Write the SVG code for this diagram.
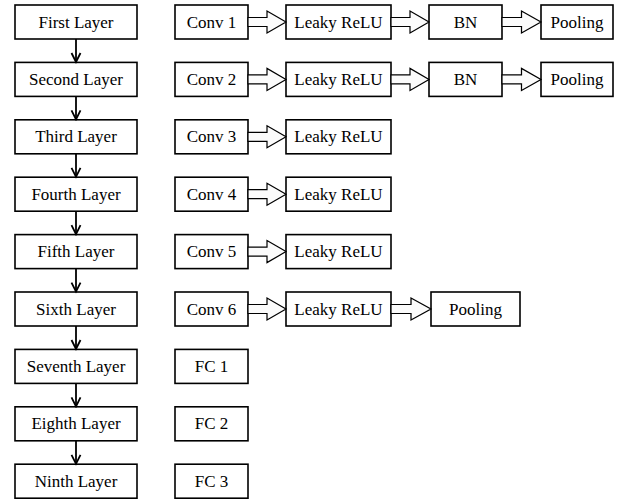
<svg xmlns="http://www.w3.org/2000/svg" width="635" height="500" viewBox="0 0 635 500">
<style>
rect{fill:#fff;stroke:#000;stroke-width:1.6}
text{font-family:'Liberation Serif','Times New Roman',serif;font-size:17px;text-anchor:middle;fill:#000}
.v{stroke:#000;stroke-width:1.8;fill:none}
.b{fill:#fbfbfb;stroke:#000;stroke-width:1.2;stroke-linejoin:miter}
</style>
<defs>
<marker id="ah" markerWidth="12" markerHeight="12" refX="10" refY="6" orient="auto" markerUnits="userSpaceOnUse" viewBox="0 0 12 12">
<path d="M1,1.5 L10,6 L1,10.5" fill="none" stroke="#000" stroke-width="1.8"/>
</marker>
<path id="blk" d="M0,-4.5 L19,-4.5 L19,-11 L38,0 L19,11 L19,4.5 L0,4.5 Z"/>
</defs>
<g id="layers" font-family="Liberation Serif, serif">
<g id="n1"><rect x="15" y="5" width="122" height="34"/><text x="76" y="27.5">First Layer</text></g>
<g id="n2"><rect x="15" y="62.4" width="122" height="34"/><text x="76" y="84.9">Second Layer</text></g>
<g id="n3"><rect x="15" y="119.8" width="122" height="34"/><text x="76" y="142.3">Third Layer</text></g>
<g id="n4"><rect x="15" y="177.2" width="122" height="34"/><text x="76" y="199.7">Fourth Layer</text></g>
<g id="n5"><rect x="15" y="234.6" width="122" height="34"/><text x="76" y="257.1">Fifth Layer</text></g>
<g id="n6"><rect x="15" y="292" width="122" height="34"/><text x="76" y="314.5">Sixth Layer</text></g>
<g id="n7"><rect x="15" y="349.4" width="122" height="34"/><text x="76" y="371.9">Seventh Layer</text></g>
<g id="n8"><rect x="15" y="406.8" width="122" height="34"/><text x="76" y="429.3">Eighth Layer</text></g>
<g id="n9"><rect x="15" y="464.2" width="122" height="34"/><text x="76" y="486.7">Ninth Layer</text></g>
</g>
<g id="ops">
<g id="c1"><rect x="175" y="5" width="73" height="34"/><text x="211.5" y="27.5">Conv 1</text></g>
<g id="l1"><rect x="286" y="5" width="105" height="34"/><text x="338.5" y="27.5">Leaky ReLU</text></g>
<g id="bn1"><rect x="429" y="5" width="73" height="34"/><text x="465.5" y="27.5">BN</text></g>
<g id="p1"><rect x="541" y="5" width="72" height="34"/><text x="577" y="27.5">Pooling</text></g>
<g id="c2"><rect x="175" y="62.4" width="73" height="34"/><text x="211.5" y="84.9">Conv 2</text></g>
<g id="l2"><rect x="286" y="62.4" width="105" height="34"/><text x="338.5" y="84.9">Leaky ReLU</text></g>
<g id="bn2"><rect x="429" y="62.4" width="73" height="34"/><text x="465.5" y="84.9">BN</text></g>
<g id="p2"><rect x="541" y="62.4" width="72" height="34"/><text x="577" y="84.9">Pooling</text></g>
<g id="c3"><rect x="175" y="119.8" width="73" height="34"/><text x="211.5" y="142.3">Conv 3</text></g>
<g id="l3"><rect x="286" y="119.8" width="105" height="34"/><text x="338.5" y="142.3">Leaky ReLU</text></g>
<g id="c4"><rect x="175" y="177.2" width="73" height="34"/><text x="211.5" y="199.7">Conv 4</text></g>
<g id="l4"><rect x="286" y="177.2" width="105" height="34"/><text x="338.5" y="199.7">Leaky ReLU</text></g>
<g id="c5"><rect x="175" y="234.6" width="73" height="34"/><text x="211.5" y="257.1">Conv 5</text></g>
<g id="l5"><rect x="286" y="234.6" width="105" height="34"/><text x="338.5" y="257.1">Leaky ReLU</text></g>
<g id="c6"><rect x="175" y="292" width="73" height="34"/><text x="211.5" y="314.5">Conv 6</text></g>
<g id="l6"><rect x="286" y="292" width="105" height="34"/><text x="338.5" y="314.5">Leaky ReLU</text></g>
<g id="p6"><rect x="431" y="292" width="89" height="34"/><text x="475.5" y="314.5">Pooling</text></g>
<g id="fc1"><rect x="175" y="349.4" width="73" height="34"/><text x="211.5" y="371.9">FC 1</text></g>
<g id="fc2"><rect x="175" y="406.8" width="73" height="34"/><text x="211.5" y="429.3">FC 2</text></g>
<g id="fc3"><rect x="175" y="464.2" width="73" height="34"/><text x="211.5" y="486.7">FC 3</text></g>
</g>
<g id="connectors">
<line class="v" x1="76" y1="39" x2="76" y2="62" marker-end="url(#ah)"/>
<line class="v" x1="76" y1="96.4" x2="76" y2="119.4" marker-end="url(#ah)"/>
<line class="v" x1="76" y1="153.8" x2="76" y2="176.8" marker-end="url(#ah)"/>
<line class="v" x1="76" y1="211.2" x2="76" y2="234.2" marker-end="url(#ah)"/>
<line class="v" x1="76" y1="268.6" x2="76" y2="291.6" marker-end="url(#ah)"/>
<line class="v" x1="76" y1="326" x2="76" y2="349" marker-end="url(#ah)"/>
<line class="v" x1="76" y1="383.4" x2="76" y2="406.4" marker-end="url(#ah)"/>
<line class="v" x1="76" y1="440.8" x2="76" y2="463.8" marker-end="url(#ah)"/>
<use href="#blk" class="b" transform="translate(248,22)"/>
<use href="#blk" class="b" transform="translate(391,22)"/>
<use href="#blk" class="b" transform="translate(502,22) scale(1.026,1)"/>
<use href="#blk" class="b" transform="translate(248,79.4)"/>
<use href="#blk" class="b" transform="translate(391,79.4)"/>
<use href="#blk" class="b" transform="translate(502,79.4) scale(1.026,1)"/>
<use href="#blk" class="b" transform="translate(248,136.8)"/>
<use href="#blk" class="b" transform="translate(248,194.2)"/>
<use href="#blk" class="b" transform="translate(248,251.6)"/>
<use href="#blk" class="b" transform="translate(248,309)"/>
<use href="#blk" class="b" transform="translate(391,309) scale(1.053,1)"/>
</g>
</svg>
